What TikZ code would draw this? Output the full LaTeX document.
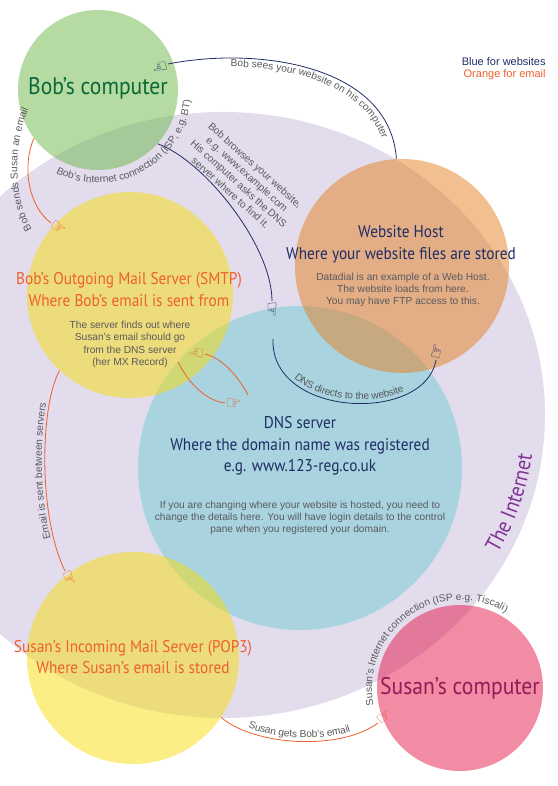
\documentclass[tikz,border=0pt]{standalone}
\usepackage{fontspec}
\setmainfont{Liberation Sans}
\newfontfamily\headfamily[FakeStretch=0.9]{PT Sans}
\newfontfamily\handfamily{DejaVu Sans}
\usetikzlibrary{decorations.text}
\definecolor{netlilac}{RGB}{226,220,236}
\definecolor{dnsblue}{RGB}{168,211,223}
\definecolor{hostorange}{RGB}{229,129,33}
\definecolor{pcgreen}{RGB}{107,183,71}
\definecolor{mailyellow}{RGB}{247,221,11}
\definecolor{pcpink}{RGB}{229,23,73}
\definecolor{webnavy}{RGB}{31,45,100}
\definecolor{mailred}{RGB}{240,95,45}
\definecolor{notegray}{RGB}{90,90,95}
\definecolor{bobtext}{RGB}{10,105,55}
\definecolor{susantext}{RGB}{150,25,90}
\definecolor{nettext}{RGB}{130,50,150}
\newcommand\notefont{\fontsize{10.2}{12.3}\selectfont}
\newcommand\handmark{\handfamily\char"261E}
\tikzset{every picture/.style={line width=0.8pt}}

\begin{document}
\begin{tikzpicture}[x=1pt,y=1pt,
  bubble/.style={circle,inner sep=0pt,minimum size=#1},
  webline/.style={draw=webnavy},
  mailline/.style={draw=mailred},
  hand/.style={font=\fontsize{18}{18}\selectfont,inner sep=0pt,anchor=west,sloped,allow upside down,pos=1},
  title/.style={font=\headfamily\fontsize{17}{21.5}\selectfont,align=center,inner sep=0pt},
  bigtitle/.style={font=\headfamily\fontsize{24}{26}\selectfont,inner sep=0pt},
  note/.style={font=\notefont,text=notegray,align=center,inner sep=0pt},
  key/.style={font=\fontsize{11}{13}\selectfont,anchor=east,inner sep=0pt},
  along/.style 2 args={decorate,decoration={text along path,text align=center,raise=#1,
    text={|\notefont\color{notegray}|#2}}}]
\useasboundingbox (0,0) rectangle (557,786);
\clip (0,0) rectangle (557,786);

% the internet
\fill[netlilac] (223,371) ellipse [x radius=322, y radius=303];

% places
\node[bubble=324, fill=dnsblue] (dns) at (300,318) {};
\node[bubble=214, fill=hostorange, fill opacity=0.5] (host) at (402,520) {};
\node[bubble=160, fill=pcgreen, fill opacity=0.5] (bobpc) at (98,696) {};
\node[bubble=206, fill=mailyellow, fill opacity=0.5] (smtp) at (130,491) {};
\node[bubble=212, fill=mailyellow, fill opacity=0.5] (pop3) at (133,128) {};
\node[bubble=166, fill=pcpink, fill opacity=0.5] (susanpc) at (460,98) {};

% free ends
\coordinate (seehand) at (168,722);
\coordinate (browsehand) at (272,485);
\coordinate (dnsout) at (273,447);
\coordinate (directhand) at (436,426);
\coordinate (sendhand) at (51,563);
\coordinate (serverhand) at (65,215);
\coordinate (mxquery) at (178,424);
\coordinate (mxask) at (225,383);
\coordinate (mxanswer) at (248,391);
\coordinate (mxreply) at (205,432);
\coordinate (getshand) at (378,63);

% website lines
\draw[webline] (host.93) .. controls (390,720) and (260,740) .. (seehand) node[hand,text=webnavy] {\handmark};
\draw[webline] (bobpc.318) .. controls (205,625) and (272,540) .. (browsehand) node[hand,text=webnavy] {\handmark};
\draw[webline] (dnsout) .. controls (270,368) and (425,362) .. (directhand) node[hand,text=webnavy] {\handmark};

% email lines
\draw[mailline] (bobpc.217) .. controls (22,620) and (28,580) .. (sendhand) node[hand,text=mailred] {\handmark};
\draw[mailline] (smtp.227) .. controls (40,380) and (38,270) .. (serverhand) node[hand,text=mailred] {\handmark};
\draw[mailline] (mxquery) .. controls (190,400) and (208,385) .. (mxask) node[hand,text=mailred] {\handmark};
\draw[mailline] (mxanswer) .. controls (238,410) and (222,428) .. (mxreply) node[hand,text=mailred] {\handmark};
\draw[mailline] (pop3.326) .. controls (255,40) and (340,35) .. (getshand) node[hand,text=mailred] {\handmark};

% curved labels
\path[along={0pt}{Bob sees your website on his computer}] (215,719) .. controls (290,722) and (375,700) .. (386,632);
\path[along={3pt}{Bob sends Susan an email}] (46,544) .. controls (14,572) and (12,650) .. (40,692);
\path[along={3pt}{Email is sent between servers}] (serverhand) .. controls (38,270) and (40,380) .. (smtp.227);
\path[along={4pt}{DNS directs to the website}] (dnsout) .. controls (270,368) and (425,362) .. (directhand);
\path[along={4pt}{Susan gets Bob’s email}] (pop3.326) .. controls (255,40) and (340,35) .. (getshand);
\path[along={0pt}{Bob’s Internet connection (ISP, e.g. BT)}] ([shift={(230:93)}]bobpc.center) arc[start angle=230, end angle=367, radius=93];
\path[along={0pt}{Susan’s Internet connection (ISP e.g. Tiscali)}] ([shift={(205:88)}]susanpc.center) arc[start angle=205, end angle=45, radius=88];
\path[decorate,decoration={text along path,text align=center,
  text={|\headfamily\fontsize{22}{22}\selectfont\color{nettext}|The Internet}}]
  (223,371) ++(-34:312 and 293) arc[start angle=-34, end angle=-2, x radius=312, y radius=293];

% texts
\node[bigtitle, text=bobtext] (bobname) at (98,698) {Bob’s computer};
\node[bigtitle, text=susantext] (susanname) at (460,98) {Susan’s computer};
\node[title, text=webnavy] (hostname) at (401,542) {Website Host\\Where your website files are stored};
\node[note] (hostnote) at (403,496) {Datadial is an example of a Web Host.\\The website loads from here.\\You may have FTP access to this.};
\node[title, text=mailred] (smtpname) at (129,496.5) {Bob’s Outgoing Mail Server (SMTP)\\Where Bob’s email is sent from};
\node[note] (smtpnote) at (130,441.5) {The server finds out where\\Susan’s email should go\\from the DNS server\\(her MX Record)};
\node[title, text=webnavy] (dnsname) at (300,340) {DNS server\\Where the domain name was registered\\e.g. www.123-reg.co.uk};
\node[note] (dnsnote) at (300,268) {If you are changing where your website is hosted, you need to\\change the details here. You will have login details to the control\\pane when you registered your domain.};
\node[title, text=mailred] (pop3name) at (133,129) {Susan’s Incoming Mail Server (POP3)\\Where Susan’s email is stored};
\node[note, rotate=-42] (browsenote) at (243,607) {Bob browses your website,\\e.g. www.example.com\\His computer asks the DNS\\server where to find it.};
\node[key, text=webnavy] (webkey) at (546,724) {Blue for websites};
\node[key, text=mailred] (mailkey) at (546,711) {Orange for email};
\end{tikzpicture}
\end{document}
